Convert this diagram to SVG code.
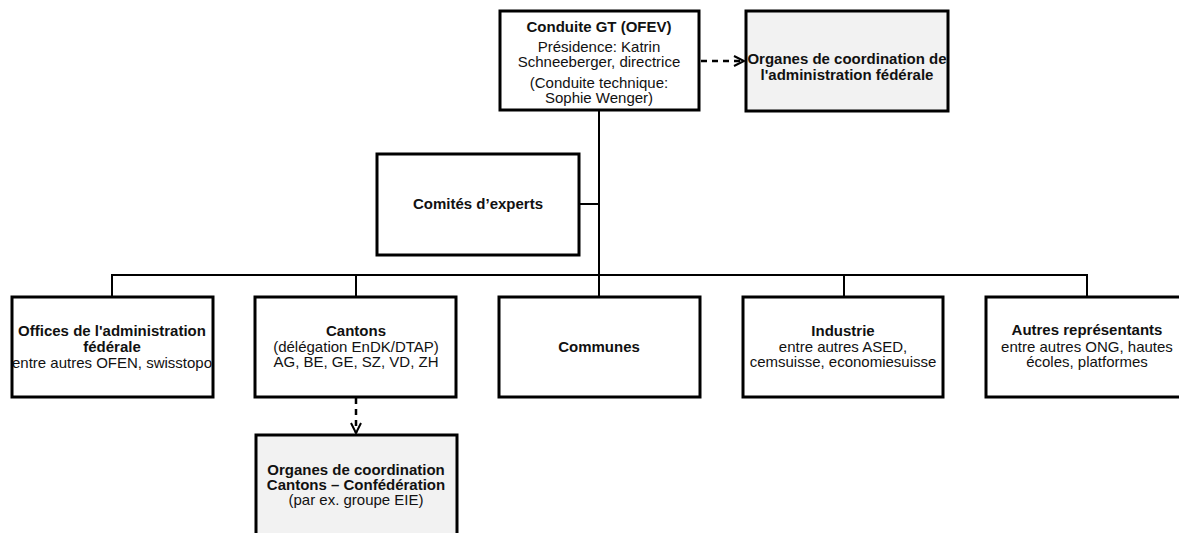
<svg xmlns="http://www.w3.org/2000/svg" width="1179" height="533" viewBox="0 0 1179 533">
<style>
  .box{fill:#ffffff;stroke:#000;stroke-width:3}
  .gray{fill:#f2f2f2;stroke:#000;stroke-width:3}
  .line{fill:none;stroke:#000;stroke-width:2}
  .dash{fill:none;stroke:#000;stroke-width:2.5;stroke-dasharray:6,5}
  text{font-family:"Liberation Sans",Arial,sans-serif;font-size:15px;fill:#111;text-anchor:middle}
  .b{font-weight:bold}
</style>
<defs>
  <marker id="chev" markerUnits="userSpaceOnUse" markerWidth="14" markerHeight="14" refX="11" refY="6" orient="auto">
    <path d="M1,1 L11,6 L1,11" fill="none" stroke="#000" stroke-width="2"/>
  </marker>
</defs>
<rect width="1179" height="533" fill="#ffffff"/>
<g id="connectors">
  <path class="line" d="M599,110 V275"/>
  <path class="line" d="M580,204 H599"/>
  <path class="line" d="M112,297 V275 H1087 V297"/>
  <path class="line" d="M356,275 V297"/>
  <path class="line" d="M599,275 V297"/>
  <path class="line" d="M844,275 V297"/>
  <path class="dash" d="M701,61 H744" marker-end="url(#chev)"/>
  <path class="dash" d="M356,398 V433" marker-end="url(#chev)"/>
</g>
<g id="conduite">
  <rect class="box" x="500" y="11" width="199" height="99"/>
  <text class="b" x="599" y="32">Conduite GT (OFEV)</text>
  <text x="599" y="52">Présidence: Katrin</text>
  <text x="599" y="67">Schneeberger, directrice</text>
  <text x="599" y="88">(Conduite technique:</text>
  <text x="599" y="103">Sophie Wenger)</text>
</g>
<g id="organes-admin">
  <rect class="gray" x="746" y="11" width="202" height="100"/>
  <text class="b" x="847" y="64">Organes de coordination de</text>
  <text class="b" x="847" y="80">l'administration fédérale</text>
</g>
<g id="comites">
  <rect class="box" x="377" y="154" width="202" height="101"/>
  <text class="b" x="478" y="209">Comités d’experts</text>
</g>
<g id="offices">
  <rect class="box" x="12" y="297" width="201" height="100"/>
  <text class="b" x="112" y="336">Offices de l'administration</text>
  <text class="b" x="112" y="352">fédérale</text>
  <text x="112" y="368">entre autres OFEN, swisstopo</text>
</g>
<g id="cantons">
  <rect class="box" x="255" y="297" width="201" height="100"/>
  <text class="b" x="356" y="336">Cantons</text>
  <text x="356" y="352">(délégation EnDK/DTAP)</text>
  <text x="356" y="367">AG, BE, GE, SZ, VD, ZH</text>
</g>
<g id="communes">
  <rect class="box" x="499" y="297" width="201" height="100"/>
  <text class="b" x="599" y="352">Communes</text>
</g>
<g id="industrie">
  <rect class="box" x="743" y="297" width="200" height="100"/>
  <text class="b" x="843" y="336">Industrie</text>
  <text x="843" y="352">entre autres ASED,</text>
  <text x="843" y="367">cemsuisse, economiesuisse</text>
</g>
<g id="autres">
  <rect class="box" x="986" y="297" width="202" height="100"/>
  <text class="b" x="1087" y="335">Autres représentants</text>
  <text x="1087" y="352">entre autres ONG, hautes</text>
  <text x="1087" y="367">écoles, platformes</text>
</g>
<g id="organes-cantons">
  <rect class="gray" x="256" y="435" width="201" height="110"/>
  <text class="b" x="356" y="475">Organes de coordination</text>
  <text class="b" x="356" y="490">Cantons – Confédération</text>
  <text x="356" y="505">(par ex. groupe EIE)</text>
</g>
</svg>
